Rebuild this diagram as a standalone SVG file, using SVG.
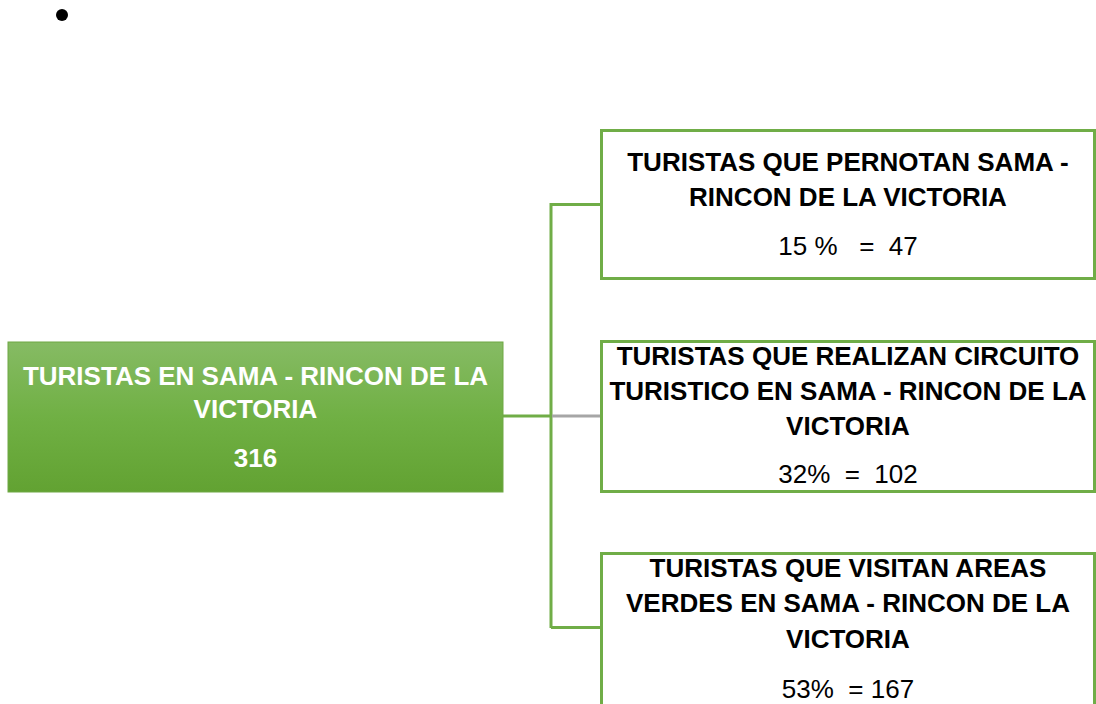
<svg xmlns="http://www.w3.org/2000/svg" width="1096" height="704" viewBox="0 0 1096 704">
<defs>
<linearGradient id="g" x1="0" y1="0" x2="0" y2="1">
<stop offset="0" stop-color="#86BB64"/>
<stop offset="0.5" stop-color="#70B044"/>
<stop offset="1" stop-color="#62A232"/>
</linearGradient>
</defs>
<style>
.b{font-family:"Liberation Sans",Arial,sans-serif;font-weight:bold;font-size:26px;text-anchor:middle}
.r{font-family:"Liberation Sans",Arial,sans-serif;font-size:26px;text-anchor:middle;fill:#000}
.w{fill:#fff}
.k{fill:#000}
.box{fill:#fff;stroke:#70AD47;stroke-width:3}
.ln{fill:none;stroke:#70AD47;stroke-width:3}
</style>
<rect width="1096" height="704" fill="#fff"/>
<circle cx="62" cy="15" r="6" fill="#000"/>
<g id="connectors">
<path class="ln" d="M503 416H551"/>
<path class="ln" d="M551 203V628"/>
<path class="ln" d="M551 204.5H601"/>
<path class="ln" d="M551 627.5H601"/>
<path d="M552 416H600" stroke="#A6A6A6" stroke-width="3" fill="none"/>
</g>
<g id="root">
<rect x="8" y="342" width="495" height="150" fill="url(#g)" stroke="#6FA845" stroke-width="1"/>
<text class="b w" x="255.5" y="385">TURISTAS EN SAMA - RINCON DE LA</text>
<text class="b w" x="255.5" y="418">VICTORIA</text>
<text class="b w" x="255.5" y="467">316</text>
</g>
<g id="n1">
<rect class="box" x="601.5" y="130.5" width="493" height="148"/>
<text class="b k" x="848" y="171">TURISTAS QUE PERNOTAN SAMA -</text>
<text class="b k" x="848" y="206">RINCON DE LA VICTORIA</text>
<text class="r" x="848" y="255" xml:space="preserve">15 %   =  47</text>
</g>
<g id="n2">
<rect class="box" x="601.5" y="341.5" width="493" height="150"/>
<text class="b k" x="848" y="365">TURISTAS QUE REALIZAN CIRCUITO</text>
<text class="b k" x="848" y="400">TURISTICO EN SAMA - RINCON DE LA</text>
<text class="b k" x="848" y="435">VICTORIA</text>
<text class="r" x="848" y="483" xml:space="preserve">32%  =  102</text>
</g>
<g id="n3">
<rect class="box" x="601.5" y="553.5" width="493" height="160"/>
<text class="b k" x="848" y="577">TURISTAS QUE VISITAN AREAS</text>
<text class="b k" x="848" y="612">VERDES EN SAMA - RINCON DE LA</text>
<text class="b k" x="848" y="648">VICTORIA</text>
<text class="r" x="848" y="698" xml:space="preserve">53%  = 167</text>
</g>
</svg>
